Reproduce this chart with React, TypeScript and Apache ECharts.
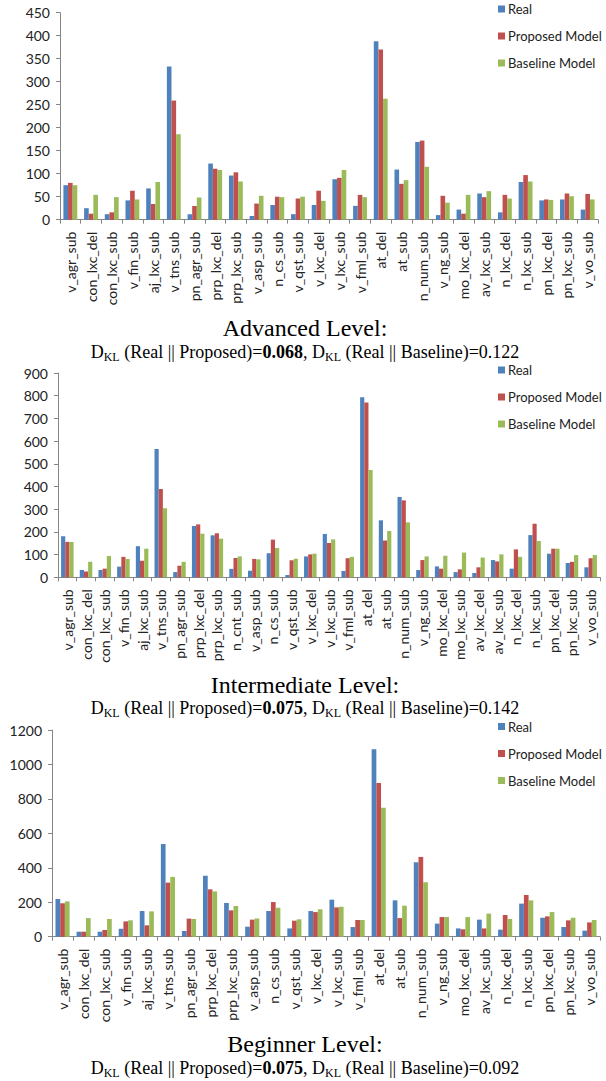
import { useEffect, useRef } from 'react';
import * as echarts from 'echarts';

const seriesNames = ['Real', 'Proposed Model', 'Baseline Model'];
const colors = ['#4F81BD', '#C0504D', '#9BBB59'];

const advCategories = ['v_agr_sub','con_lxc_del','con_lxc_sub','v_fin_sub','aj_lxc_sub','v_tns_sub','pn_agr_sub','prp_lxc_del','prp_lxc_sub','v_asp_sub','n_cs_sub','v_qst_sub','v_lxc_del','v_lxc_sub','v_fml_sub','at_del','at_sub','n_num_sub','v_ng_sub','mo_lxc_del','av_lxc_sub','n_lxc_del','n_lxc_sub','pn_lxc_del','pn_lxc_sub','v_vo_sub'];
const advReal = [75,25,12,42,68,333,12,122,96,8,32,12,32,88,30,388,109,169,10,22,57,16,82,42,44,22];
const advProposed = [80,13,16,63,34,259,30,111,103,35,50,46,63,91,54,370,78,172,52,13,49,54,97,44,57,56];
const advBaseline = [75,54,49,44,82,186,48,108,83,52,49,50,41,108,49,263,86,115,37,54,62,46,83,43,51,44];

const intCategories = ['v_agr_sub','con_lxc_del','con_lxc_sub','v_fin_sub','aj_lxc_sub','v_tns_sub','pn_agr_sub','prp_lxc_del','prp_lxc_sub','n_cnt_sub','v_asp_sub','n_cs_sub','v_qst_sub','v_lxc_del','v_lxc_sub','v_fml_sub','at_del','at_sub','n_num_sub','v_ng_sub','mo_lxc_del','mo_lxc_sub','av_lxc_del','av_lxc_sub','n_lxc_del','n_lxc_sub','pn_lxc_del','pn_lxc_sub','v_vo_sub'];
const intReal = [181,32,32,47,137,565,23,226,185,37,29,106,10,92,191,28,793,251,354,32,48,23,19,76,38,186,104,63,44];
const intProposed = [156,26,38,90,73,389,51,233,194,85,81,166,75,101,151,84,770,162,339,76,38,35,44,70,123,236,126,68,84];
const intBaseline = [156,68,94,81,126,304,68,192,170,92,79,129,82,104,167,90,473,204,242,92,95,109,87,101,90,160,126,98,98];

const begCategories = ['v_agr_sub','con_lxc_del','con_lxc_sub','v_fin_sub','aj_lxc_sub','v_tns_sub','pn_agr_sub','prp_lxc_del','prp_lxc_sub','v_asp_sub','n_cs_sub','v_qst_sub','v_lxc_del','v_lxc_sub','v_fml_sub','at_del','at_sub','n_num_sub','v_ng_sub','mo_lxc_del','av_lxc_sub','n_lxc_del','n_lxc_sub','pn_lxc_del','pn_lxc_sub','v_vo_sub'];
const begReal = [219,29,29,46,149,538,33,354,196,58,149,48,149,215,56,1088,211,432,76,48,99,41,192,110,56,35];
const begProposed = [194,29,39,89,66,314,105,275,153,99,201,93,143,170,97,893,108,463,114,43,48,126,242,118,95,83];
const begBaseline = [205,108,103,95,147,347,103,263,178,106,168,101,159,174,97,749,180,316,114,114,134,103,211,143,110,97];

const yMax = [450, 900, 1200];
const yInterval = [50, 100, 200];
const levelTitles = ['Advanced Level:', 'Intermediate Level:', 'Beginner Level:'];
const klProposed = ['0.068', '0.075', '0.075'];
const klBaseline = ['0.122', '0.142', '0.092'];

const panels = [
  { cats: advCategories, data: [advReal, advProposed, advBaseline], grid: { left: 60, top: 12.7, width: 538, height: 207 }, legendTop: -2.5, titleY: 328, subY: 352 },
  { cats: intCategories, data: [intReal, intProposed, intBaseline], grid: { left: 58, top: 373, width: 542, height: 204.3 }, legendTop: 358.5, titleY: 685, subY: 708 },
  { cats: begCategories, data: [begReal, begProposed, begBaseline], grid: { left: 52, top: 730, width: 548, height: 206.7 }, legendTop: 715, titleY: 1044, subY: 1068 },
];

const SANS = 'Lato';
const SERIF = 'Liberation Serif';
const axisGray = '#868686';

function buildOption() {
  const grid: any[] = [];
  const xAxis: any[] = [];
  const yAxis: any[] = [];
  const series: any[] = [];
  const legend: any[] = [];
  const graphic: any[] = [];
  panels.forEach((p, i) => {
    grid.push({ ...p.grid, containLabel: false });
    xAxis.push({
      type: 'category', gridIndex: i, data: p.cats,
      axisLine: { lineStyle: { color: axisGray, width: 1 } },
      axisTick: { show: true, inside: false, length: 4, lineStyle: { color: axisGray } },
      axisLabel: { rotate: 90, interval: 0, margin: 12, fontFamily: SANS, fontSize: 14, color: '#222' },
      splitLine: { show: false },
    });
    yAxis.push({
      type: 'value', gridIndex: i, min: 0, max: yMax[i], interval: yInterval[i],
      axisLine: { show: true, lineStyle: { color: axisGray, width: 1 } },
      axisTick: { show: true, inside: false, length: 4, lineStyle: { color: axisGray } },
      axisLabel: { margin: 10, fontFamily: SANS, fontSize: 14, color: '#222', formatter: (v: number) => String(v) },
      splitLine: { show: false },
    });
    seriesNames.forEach((name, k) => {
      series.push({
        type: 'bar', name, xAxisIndex: i, yAxisIndex: i, data: p.data[k],
        itemStyle: { color: colors[k] },
        barGap: '0%', barCategoryGap: '33%',
      });
    });
    legend.push({
      orient: 'vertical', left: 493, top: p.legendTop, itemWidth: 7, itemHeight: 7, itemGap: 14,
      icon: 'rect', data: seriesNames,
      textStyle: { fontFamily: SANS, fontSize: 13, color: '#222', padding: [0, 0, 0, -2] },
    });
    graphic.push({
      type: 'text', x: 305, y: p.titleY,
      style: { text: levelTitles[i], font: `24px "${SERIF}"`, fill: '#000', align: 'center', verticalAlign: 'middle' },
    });
    graphic.push({
      type: 'text', x: 305, y: p.subY,
      style: {
        text: `{n|D}{s|KL}{n| (Real || Proposed)=}{b|${klProposed[i]}}{n|, D}{s|KL}{n| (Real || Baseline)=${klBaseline[i]}}`,
        align: 'center', verticalAlign: 'middle', fill: '#000',
        rich: {
          n: { fontFamily: SERIF, fontSize: 18, lineHeight: 22, fill: '#000' },
          b: { fontFamily: SERIF, fontSize: 18, lineHeight: 22, fontWeight: 'bold', fill: '#000' },
          s: { fontFamily: SERIF, fontSize: 12, lineHeight: 12, verticalAlign: 'bottom', fill: '#000' },
        },
      },
    });
  });
  return { animation: false, backgroundColor: '#fff', grid, xAxis, yAxis, series, legend, graphic };
}

export default function App() {
  const ref = useRef<HTMLDivElement>(null);
  useEffect(() => {
    const chart = echarts.init(ref.current!, null, { renderer: 'svg' });
    chart.setOption(buildOption());
    return () => chart.dispose();
  }, []);
  return <div ref={ref} style={{ position: 'absolute', left: 0, top: 0, width: 606, height: 1081 }} />;
}
